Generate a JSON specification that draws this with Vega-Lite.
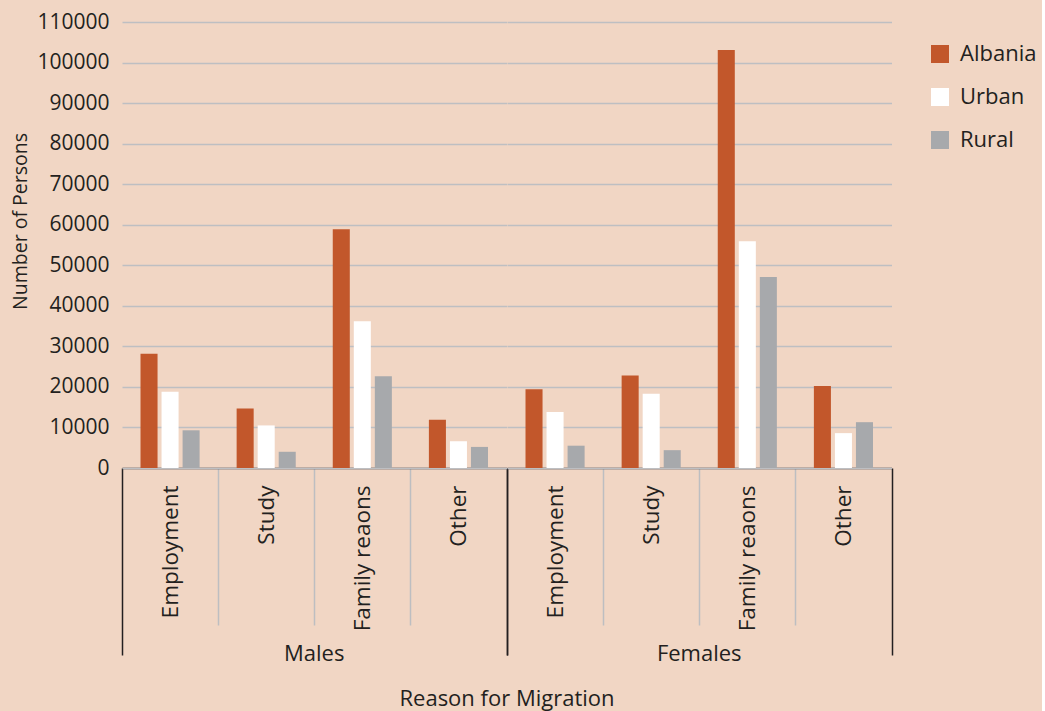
{
  "$schema": "https://vega.github.io/schema/vega-lite/v6.json",
  "autosize": {"type": "pad"},
  "padding": {"left": 10, "top": 11, "right": 5, "bottom": 5},
  "background": "#F1D6C4",
  "data": {"values": [
    {"sex": "Males", "reason": "Employment", "area": "Albania", "value": 28200},
    {"sex": "Males", "reason": "Employment", "area": "Urban", "value": 18800},
    {"sex": "Males", "reason": "Employment", "area": "Rural", "value": 9300},
    {"sex": "Males", "reason": "Study", "area": "Albania", "value": 14700},
    {"sex": "Males", "reason": "Study", "area": "Urban", "value": 10500},
    {"sex": "Males", "reason": "Study", "area": "Rural", "value": 4000},
    {"sex": "Males", "reason": "Family reaons", "area": "Albania", "value": 58900},
    {"sex": "Males", "reason": "Family reaons", "area": "Urban", "value": 36200},
    {"sex": "Males", "reason": "Family reaons", "area": "Rural", "value": 22600},
    {"sex": "Males", "reason": "Other", "area": "Albania", "value": 11900},
    {"sex": "Males", "reason": "Other", "area": "Urban", "value": 6600},
    {"sex": "Males", "reason": "Other", "area": "Rural", "value": 5200},
    {"sex": "Females", "reason": "Employment", "area": "Albania", "value": 19400},
    {"sex": "Females", "reason": "Employment", "area": "Urban", "value": 13800},
    {"sex": "Females", "reason": "Employment", "area": "Rural", "value": 5500},
    {"sex": "Females", "reason": "Study", "area": "Albania", "value": 22800},
    {"sex": "Females", "reason": "Study", "area": "Urban", "value": 18300},
    {"sex": "Females", "reason": "Study", "area": "Rural", "value": 4400},
    {"sex": "Females", "reason": "Family reaons", "area": "Albania", "value": 103100},
    {"sex": "Females", "reason": "Family reaons", "area": "Urban", "value": 55900},
    {"sex": "Females", "reason": "Family reaons", "area": "Rural", "value": 47100},
    {"sex": "Females", "reason": "Other", "area": "Albania", "value": 20200},
    {"sex": "Females", "reason": "Other", "area": "Urban", "value": 8600},
    {"sex": "Females", "reason": "Other", "area": "Rural", "value": 11300}
  ]},
  "facet": {
    "column": {
      "field": "sex",
      "type": "nominal",
      "sort": ["Males", "Females"],
      "title": "Reason for Migration",
      "header": {
        "labelOrient": "bottom",
        "titleOrient": "bottom",
        "labelFont": "Open Sans",
        "labelFontSize": 22,
        "labelColor": "#231F20",
        "labelPadding": -12,
        "titleFont": "Open Sans",
        "titleFontSize": 22,
        "titleFontWeight": "normal",
        "titleColor": "#231F20",
        "titlePadding": 14
      }
    }
  },
  "spacing": 0,
  "spec": {
    "width": 384.5,
    "height": 446,
    "mark": {"type": "bar"},
    "encoding": {
      "x": {
        "field": "reason",
        "type": "nominal",
        "sort": ["Employment", "Study", "Family reaons", "Other"],
        "scale": {"paddingInner": 0, "paddingOuter": 0},
        "axis": {
          "title": null,
          "labelAngle": -90,
          "labelAlign": "right",
          "labelBaseline": "middle",
          "labelFont": "Open Sans",
          "labelFontSize": 22.5,
          "labelColor": "#231F20",
          "tickBand": "extent",
          "tickSize": {"condition": {"test": "datum.value === 'Other' || datum.index < 0", "value": 187}, "value": 157},
          "labelPadding": {"condition": {"test": "datum.value === 'Other'", "value": -170}, "value": -140},
          "tickColor": {"condition": {"test": "datum.value === 'Other' || datum.index < 0", "value": "#231F20"}, "value": "#BDBEC1"},
          "tickWidth": 1.5,
          "domainColor": "#231F20",
          "domainWidth": 1.5,
          "grid": false
        }
      },
      "xOffset": {
        "field": "area",
        "type": "nominal",
        "sort": ["Albania", "Urban", "Rural"],
        "scale": {"paddingInner": 0.19, "paddingOuter": 0.88}
      },
      "y": {
        "field": "value",
        "type": "quantitative",
        "scale": {"domain": [0, 110000], "nice": false},
        "axis": {
          "title": "Number of Persons",
          "titleFont": "Open Sans",
          "titleFontSize": 19.5,
          "titleFontWeight": "normal",
          "titleColor": "#231F20",
          "titlePadding": 6,
          "titleY": 199,
          "values": [0, 10000, 20000, 30000, 40000, 50000, 60000, 70000, 80000, 90000, 100000, 110000],
          "format": "d",
          "labelFont": "Open Sans",
          "labelFontSize": 21,
          "labelColor": "#231F20",
          "labelPadding": 13,
          "ticks": false,
          "domain": false,
          "grid": true,
          "gridColor": "#BEBFC2",
          "gridWidth": 1.5
        }
      },
      "color": {
        "field": "area",
        "type": "nominal",
        "sort": ["Albania", "Urban", "Rural"],
        "scale": {"domain": ["Albania", "Urban", "Rural"], "range": ["#C2572B", "#FFFFFF", "#A7A9AC"]},
        "legend": {
          "title": null,
          "orient": "none",
          "legendX": 807,
          "legendY": 21,
          "padding": 0,
          "symbolType": "square",
          "symbolSize": 324,
          "symbolStrokeWidth": 0,
          "labelFont": "Open Sans",
          "labelFontSize": 22,
          "labelColor": "#231F20",
          "labelOffset": 9,
          "rowPadding": 21
        }
      }
    }
  },
  "config": {
    "view": {"stroke": null},
    "bar": {"stroke": null}
  }
}
